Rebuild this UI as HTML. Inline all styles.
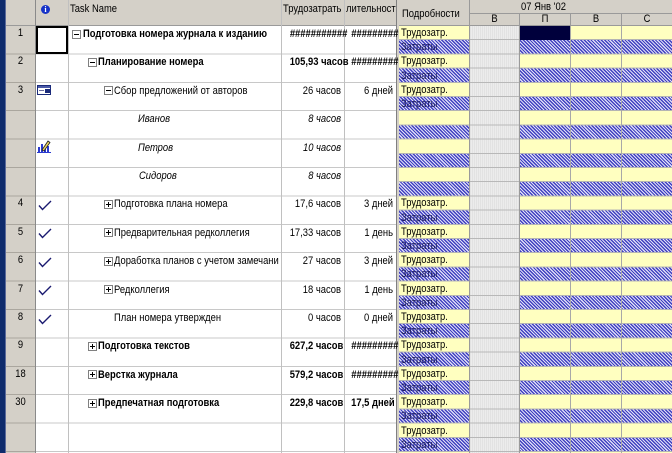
<!DOCTYPE html>
<html><head><meta charset="utf-8">
<style>
html,body{margin:0;padding:0}
body{width:672px;height:453px;overflow:hidden;position:relative;background:#fff;font-family:"Liberation Sans",Arial,sans-serif;font-size:11px;color:#000}
.a{position:absolute}
.tx{position:absolute;line-height:14px;height:14px;white-space:nowrap;transform:scaleX(.855);transform-origin:0 0}
.r{text-align:right;transform-origin:100% 0}
.c{text-align:center;transform-origin:50% 0}
.b{font-weight:bold}
.i{font-style:italic}
.w{left:281px;width:60px}
.d{left:344px;width:49px}
.vl{position:absolute;width:1px;background:#c0c0c0}
.hb{background:#d4d0c8}
.rt{left:401px;color:#000}
.rz{left:401px;color:#1a1a5a}
</style></head><body>

<div class="a" style="left:0;top:0;width:5px;height:453px;background:#0e2b6c"></div>
<div class="a" style="left:5px;top:0;width:1px;height:453px;background:#5a6a9a"></div>

<div class="a hb" style="left:6px;top:0;width:390px;height:26px;border-bottom:1px solid #9a9a9a;box-sizing:border-box"></div>
<div class="a" style="left:6px;top:26px;width:29px;height:427px;background:#d4d0c8 repeating-linear-gradient(to bottom,transparent 0 27.4px,#aaa69e 27.4px 28.4px)"></div>
<div class="a" style="left:35px;top:0;width:1px;height:453px;background:#8a8a8a"></div>

<div class="a" style="left:36px;top:26px;width:360px;height:427px;background:repeating-linear-gradient(to bottom,transparent 0 27.4px,#c8c8c8 27.4px 28.4px)"></div>
<div class="vl" style="left:68px;top:0;height:453px"></div>
<div class="vl" style="left:281px;top:0;height:453px"></div>
<div class="vl" style="left:344px;top:0;height:453px"></div>

<div class="a" style="left:41px;top:5px;width:9px;height:9px;border-radius:50%;background:#1632c8;color:#fff;font:bold 8px/9px 'Liberation Serif',serif;text-align:center">i</div>
<div class="tx" style="left:70px;top:2px">Task Name</div>
<div class="tx" style="left:283px;top:2px">Трудозатрать</div>
<div class="tx" style="left:346px;top:2px">лительност</div>

<div class="a" style="left:396px;top:0;width:3px;height:453px;background:#d4d0c8;border-left:1px solid #808080;box-sizing:border-box"></div>

<div class="a hb" style="left:399px;top:0;width:273px;height:26px;border-bottom:1px solid #9a9a9a;box-sizing:border-box"></div>
<div class="a" style="left:469px;top:13px;width:203px;height:1px;background:#9a9a9a"></div>
<div class="a" style="left:469px;top:0;width:1px;height:26px;background:#9a9a9a"></div>
<div class="a" style="left:519px;top:13px;width:1px;height:13px;background:#9a9a9a"></div>
<div class="a" style="left:570px;top:13px;width:1px;height:13px;background:#9a9a9a"></div>
<div class="a" style="left:621px;top:13px;width:1px;height:13px;background:#9a9a9a"></div>
<div class="tx" style="left:402px;top:7px">Подробности</div>
<div class="tx" style="left:521px;top:0px">07 Янв '02</div>
<div class="tx c" style="left:470px;width:49px;top:12px">В</div>
<div class="tx c" style="left:520px;width:50px;top:12px">П</div>
<div class="tx c" style="left:571px;width:50px;top:12px">В</div>
<div class="tx c" style="left:622px;width:50px;top:12px">С</div>

<div class="a" style="left:399px;top:26px;width:273px;height:427px;background:repeating-linear-gradient(to bottom,transparent 0 13.2px,#b4b4b4 13.2px 14.2px),repeating-linear-gradient(to bottom,#ffffc0 0 14.2px,transparent 14.2px 28.4px),repeating-linear-gradient(45deg,#4040c0 0 1.3px,#e0e0f8 1.3px 2.4px)"></div>
<div class="a" style="left:469px;top:26px;width:50px;height:427px;background:repeating-linear-gradient(to bottom,transparent 0 13.2px,#b8b8b8 13.2px 14.2px),repeating-linear-gradient(to right,#ececec 0 1px,#e2e2e2 1px 2px)"></div>
<div class="a" style="left:469px;top:26px;width:1px;height:427px;background:#9a9a9a"></div>
<div class="a" style="left:519px;top:26px;width:1px;height:427px;background:#9a9a9a"></div>
<div class="a" style="left:570px;top:26px;width:1px;height:427px;background:#a8a8a8"></div>
<div class="a" style="left:621px;top:26px;width:1px;height:427px;background:#a8a8a8"></div>
<div class="a" style="left:520px;top:26px;width:50px;height:14px;background:#00003c"></div>

<div class="tx rt" style="top:26px">Трудозатр.</div><div class="tx rz" style="top:40.2px">Затраты</div>
<div class="tx rt" style="top:54.4px">Трудозатр.</div><div class="tx rz" style="top:68.6px">Затраты</div>
<div class="tx rt" style="top:82.8px">Трудозатр.</div><div class="tx rz" style="top:97px">Затраты</div>
<div class="tx rt" style="top:196.4px">Трудозатр.</div><div class="tx rz" style="top:210.6px">Затраты</div>
<div class="tx rt" style="top:224.8px">Трудозатр.</div><div class="tx rz" style="top:239px">Затраты</div>
<div class="tx rt" style="top:253.2px">Трудозатр.</div><div class="tx rz" style="top:267.4px">Затраты</div>
<div class="tx rt" style="top:281.6px">Трудозатр.</div><div class="tx rz" style="top:295.8px">Затраты</div>
<div class="tx rt" style="top:310px">Трудозатр.</div><div class="tx rz" style="top:324.2px">Затраты</div>
<div class="tx rt" style="top:338.4px">Трудозатр.</div><div class="tx rz" style="top:352.6px">Затраты</div>
<div class="tx rt" style="top:366.8px">Трудозатр.</div><div class="tx rz" style="top:381px">Затраты</div>
<div class="tx rt" style="top:395.2px">Трудозатр.</div><div class="tx rz" style="top:409.4px">Затраты</div>
<div class="tx rt" style="top:423.6px">Трудозатр.</div><div class="tx rz" style="top:437.8px">Затраты</div>

<div class="tx c" style="left:6px;width:29px;top:26px">1</div>
<div class="tx c" style="left:6px;width:29px;top:54.4px">2</div>
<div class="tx c" style="left:6px;width:29px;top:82.8px">3</div>
<div class="tx c" style="left:6px;width:29px;top:196.4px">4</div>
<div class="tx c" style="left:6px;width:29px;top:224.8px">5</div>
<div class="tx c" style="left:6px;width:29px;top:253.2px">6</div>
<div class="tx c" style="left:6px;width:29px;top:281.6px">7</div>
<div class="tx c" style="left:6px;width:29px;top:310px">8</div>
<div class="tx c" style="left:6px;width:29px;top:338.4px">9</div>
<div class="tx c" style="left:6px;width:29px;top:366.8px">18</div>
<div class="tx c" style="left:6px;width:29px;top:395.2px">30</div>

<div class="a" style="left:36px;top:26px;width:32px;height:28px;border:2px solid #000;box-sizing:border-box;background:#fff"></div>

<svg class="a" style="left:37px;top:85px" width="14" height="10"><rect x=".5" y=".5" width="13" height="9" fill="#fff" stroke="#1a2a7a"/><rect x="1" y="1" width="12" height="2" fill="#4a5aa8"/><rect x="8" y="4" width="5" height="4" fill="#1a2a7a"/><rect x="2" y="5" width="5" height="1" fill="#6a6aa0"/></svg>
<svg class="a" style="left:37px;top:139px" width="15" height="15"><rect x="1" y="8" width="2" height="6" fill="#2a3ad0"/><rect x="4" y="5" width="2" height="9" fill="#2a3ad0"/><rect x="7" y="9" width="2" height="5" fill="#2a3ad0"/><rect x="10" y="7" width="2" height="7" fill="#2a3ad0"/><rect x="0" y="13" width="14" height="1" fill="#2a3ad0"/><path d="M5 11 L11 2 L13 3.5 L7 12 Z" fill="#e8d060" stroke="#202020" stroke-width=".8"/></svg>

<svg class="a" style="left:38px;top:200px" width="14" height="11"><path d="M1 5.5 L4.5 9.5 L13 1" fill="none" stroke="#1a1a70" stroke-width="1.4"/></svg>
<svg class="a" style="left:38px;top:228px" width="14" height="11"><path d="M1 5.5 L4.5 9.5 L13 1" fill="none" stroke="#1a1a70" stroke-width="1.4"/></svg>
<svg class="a" style="left:38px;top:257px" width="14" height="11"><path d="M1 5.5 L4.5 9.5 L13 1" fill="none" stroke="#1a1a70" stroke-width="1.4"/></svg>
<svg class="a" style="left:38px;top:285px" width="14" height="11"><path d="M1 5.5 L4.5 9.5 L13 1" fill="none" stroke="#1a1a70" stroke-width="1.4"/></svg>
<svg class="a" style="left:38px;top:314px" width="14" height="11"><path d="M1 5.5 L4.5 9.5 L13 1" fill="none" stroke="#1a1a70" stroke-width="1.4"/></svg>

<svg class="a" style="left:72px;top:29.5px" width="9" height="9"><rect x=".5" y=".5" width="8" height="8" fill="#fff" stroke="#808080"/><path d="M2 4.5h5" stroke="#000"/></svg>
<svg class="a" style="left:88px;top:57.9px" width="9" height="9"><rect x=".5" y=".5" width="8" height="8" fill="#fff" stroke="#808080"/><path d="M2 4.5h5" stroke="#000"/></svg>
<svg class="a" style="left:104px;top:86.3px" width="9" height="9"><rect x=".5" y=".5" width="8" height="8" fill="#fff" stroke="#808080"/><path d="M2 4.5h5" stroke="#000"/></svg>
<svg class="a" style="left:104px;top:199.9px" width="9" height="9"><rect x=".5" y=".5" width="8" height="8" fill="#fff" stroke="#808080"/><path d="M2 4.5h5M4.5 2v5" stroke="#000"/></svg>
<svg class="a" style="left:104px;top:228.3px" width="9" height="9"><rect x=".5" y=".5" width="8" height="8" fill="#fff" stroke="#808080"/><path d="M2 4.5h5M4.5 2v5" stroke="#000"/></svg>
<svg class="a" style="left:104px;top:256.7px" width="9" height="9"><rect x=".5" y=".5" width="8" height="8" fill="#fff" stroke="#808080"/><path d="M2 4.5h5M4.5 2v5" stroke="#000"/></svg>
<svg class="a" style="left:104px;top:285.1px" width="9" height="9"><rect x=".5" y=".5" width="8" height="8" fill="#fff" stroke="#808080"/><path d="M2 4.5h5M4.5 2v5" stroke="#000"/></svg>
<svg class="a" style="left:88px;top:341.9px" width="9" height="9"><rect x=".5" y=".5" width="8" height="8" fill="#fff" stroke="#808080"/><path d="M2 4.5h5M4.5 2v5" stroke="#000"/></svg>
<svg class="a" style="left:88px;top:370.3px" width="9" height="9"><rect x=".5" y=".5" width="8" height="8" fill="#fff" stroke="#808080"/><path d="M2 4.5h5M4.5 2v5" stroke="#000"/></svg>
<svg class="a" style="left:88px;top:398.7px" width="9" height="9"><rect x=".5" y=".5" width="8" height="8" fill="#fff" stroke="#808080"/><path d="M2 4.5h5M4.5 2v5" stroke="#000"/></svg>

<div class="tx b" style="left:83px;top:27px">Подготовка номера журнала к изданию</div>
<div class="tx b" style="left:98px;top:55.4px">Планирование номера</div>
<div class="tx" style="left:114px;top:83.8px">Сбор предложений от авторов</div>
<div class="tx i" style="left:138px;top:112.2px">Иванов</div>
<div class="tx i" style="left:138px;top:140.6px">Петров</div>
<div class="tx i" style="left:139px;top:169px">Сидоров</div>
<div class="tx" style="left:114px;top:197.4px">Подготовка плана номера</div>
<div class="tx" style="left:114px;top:225.8px">Предварительная редколлегия</div>
<div class="tx" style="left:114px;top:254.2px">Доработка планов с учетом замечани</div>
<div class="tx" style="left:114px;top:282.6px">Редколлегия</div>
<div class="tx" style="left:114px;top:311px">План номера утвержден</div>
<div class="tx b" style="left:98px;top:339.4px">Подготовка текстов</div>
<div class="tx b" style="left:98px;top:367.8px">Верстка журнала</div>
<div class="tx b" style="left:98px;top:396.2px">Предпечатная подготовка</div>

<div class="tx r w b i" style="top:27px">###########</div>
<div class="tx r w b" style="top:55.4px">105,93 часов</div>
<div class="tx r w" style="top:83.8px">26 часов</div>
<div class="tx r w i" style="top:112.2px">8 часов</div>
<div class="tx r w i" style="top:140.6px">10 часов</div>
<div class="tx r w i" style="top:169px">8 часов</div>
<div class="tx r w" style="top:197.4px">17,6 часов</div>
<div class="tx r w" style="top:225.8px">17,33 часов</div>
<div class="tx r w" style="top:254.2px">27 часов</div>
<div class="tx r w" style="top:282.6px">18 часов</div>
<div class="tx r w" style="top:311px">0 часов</div>
<div class="tx r w b" style="top:339.4px">627,2 часов</div>
<div class="tx r w b" style="top:367.8px">579,2 часов</div>
<div class="tx r w b" style="top:396.2px">229,8 часов</div>

<div class="tx r d b i" style="top:27px">#########</div>
<div class="tx r d b i" style="top:55.4px">#########</div>
<div class="tx r d" style="top:83.8px">6 дней</div>
<div class="tx r d" style="top:197.4px">3 дней</div>
<div class="tx r d" style="top:225.8px">1 день</div>
<div class="tx r d" style="top:254.2px">3 дней</div>
<div class="tx r d" style="top:282.6px">1 день</div>
<div class="tx r d" style="top:311px">0 дней</div>
<div class="tx r d b i" style="top:339.4px">#########</div>
<div class="tx r d b i" style="top:367.8px">#########</div>
<div class="tx r d b" style="top:396.2px">17,5 дней</div>

</body></html>
